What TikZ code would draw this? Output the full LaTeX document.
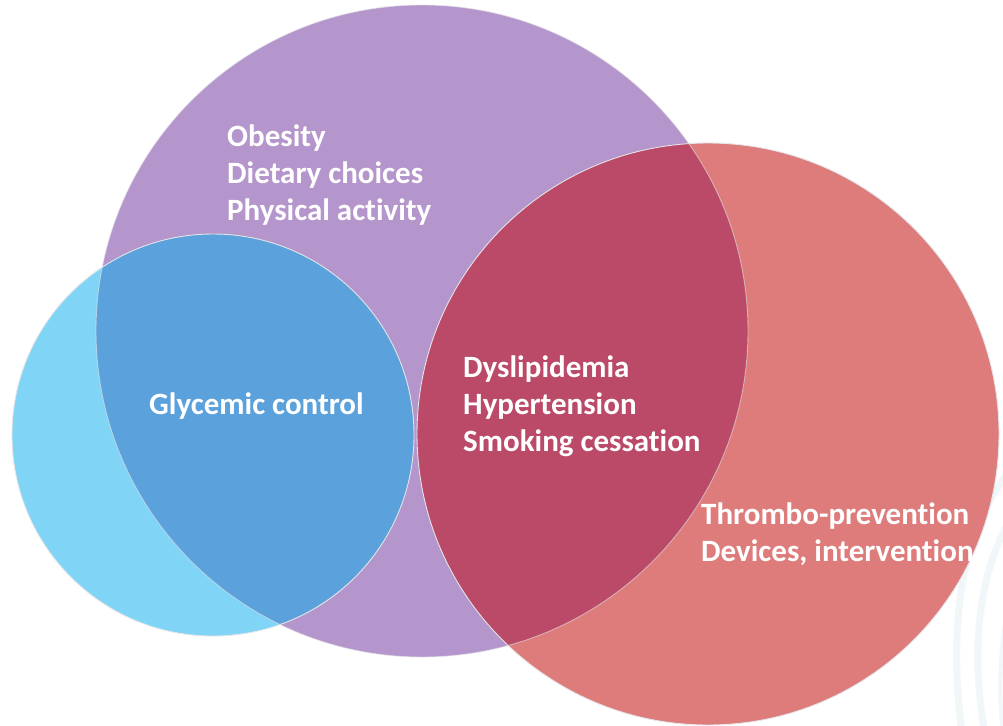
\documentclass[tikz,border=0pt]{standalone}
\usepackage{fontspec}
\setmainfont{Carlito}[Ligatures=NoCommon]
\definecolor{purpleC}{HTML}{B495CC}
\definecolor{blueC}{HTML}{80D4F5}
\definecolor{bluePC}{HTML}{5BA1DB}
\definecolor{redC}{HTML}{DD7C7B}
\definecolor{redPC}{HTML}{BA4A67}
\definecolor{decoC}{HTML}{E9F0F4}
\definecolor{edgeC}{HTML}{E4E4E8}
\begin{document}
\begin{tikzpicture}[x=1pt,y=-1pt,
  lbl/.style={text=white,font=\bfseries\fontsize{31}{37}\selectfont,align=left,inner sep=0pt,anchor=west},
  rim/.style={draw=edgeC,line width=0.9pt},
  deco/.style={decoC,line width=7pt,line cap=round,opacity=0.6}]
\useasboundingbox (0,0) rectangle (1003,725);
\fill[white] (0,0) rectangle (1003,725);
% faint background streaks
\draw[deco] (1010,470) .. controls (955,540) and (950,640) .. (962,735);
\draw[deco] (1010,520) .. controls (975,580) and (972,660) .. (985,735);
\draw[deco,line width=4pt] (1010,600) .. controls (1000,640) and (998,690) .. (1003,735);
% circles
\coordinate (cP) at (422,331);
\coordinate (cB) at (213,435);
\coordinate (cR) at (708,434);
\fill[purpleC] (cP) circle[radius=326pt];
\fill[blueC] (cB) circle[radius=201pt];
\fill[redC] (cR) circle[radius=291pt];
\begin{scope}
  \clip (cP) circle[radius=326pt];
  \fill[bluePC] (cB) circle[radius=201pt];
  \fill[redPC] (cR) circle[radius=291pt];
\end{scope}
\draw[rim,draw opacity=0.6] (cP) circle[radius=326pt];
\draw[rim] (cB) circle[radius=201pt];
\draw[rim] (cR) circle[radius=291pt];
% labels
\node[lbl] (life) at (227,175) {Obesity\\Dietary choices\\Physical activity};
\node[lbl] (gly) at (149,406) {Glycemic control};
\node[lbl] (risk) at (463,406) {Dyslipidemia\\Hypertension\\Smoking cessation};
\node[lbl] (thr) at (701,534) {Thrombo-prevention\\Devices, intervention};
\end{tikzpicture}
\end{document}
